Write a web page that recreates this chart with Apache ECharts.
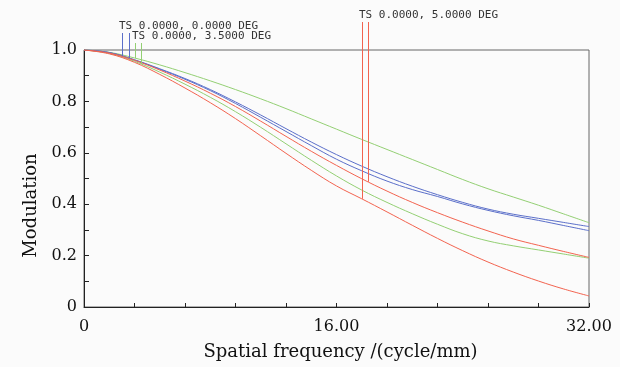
<!DOCTYPE html>
<html>
<head>
<meta charset="utf-8">
<script src="https://cdn.jsdelivr.net/npm/echarts@6/dist/echarts.min.js"></script>
<style>
html,body{margin:0;padding:0;background:#fbfbfb;}
#main{width:620px;height:367px;}
</style>
</head>
<body>
<div id="main"></div>
<script>
// ---- data ----
const freq = [0,1.6,3.2,4.8,6.4,8,9.6,11.2,12.8,14.4,16,17.6,19.2,20.8,22.4,24,25.6,27.2,28.8,30.4,32];
const blueS = [1,0.99,0.962,0.927,0.889,0.846,0.798,0.747,0.694,0.642,0.593,0.548,0.507,0.470,0.437,0.407,0.381,0.361,0.345,0.329,0.313];
const blueT = [1,0.99,0.961,0.925,0.886,0.842,0.792,0.738,0.683,0.628,0.575,0.530,0.490,0.457,0.430,0.401,0.376,0.355,0.337,0.317,0.297];
const greenS = [1,0.991,0.969,0.942,0.912,0.880,0.846,0.810,0.772,0.732,0.692,0.652,0.613,0.574,0.535,0.496,0.460,0.428,0.396,0.362,0.328];
const greenT = [1,0.987,0.956,0.914,0.867,0.816,0.760,0.699,0.635,0.571,0.510,0.455,0.407,0.363,0.322,0.285,0.257,0.238,0.222,0.206,0.190];
const redS = [1,0.988,0.960,0.922,0.879,0.832,0.780,0.723,0.664,0.606,0.551,0.499,0.451,0.407,0.367,0.330,0.296,0.265,0.240,0.216,0.193];
const redT = [1,0.985,0.952,0.905,0.852,0.795,0.733,0.666,0.598,0.532,0.471,0.421,0.370,0.318,0.267,0.219,0.175,0.136,0.101,0.070,0.043];
const fieldLabels = ['TS 0.0000, 0.0000 DEG','TS 0.0000, 3.5000 DEG','TS 0.0000, 5.0000 DEG'];
const blueMarkerFreq = [2.41, 2.83];
const greenMarkerFreq = [3.2, 3.64];
const redMarkerFreq = [17.6, 18.0];
const xTickLabels = {0:'0', 16:'16.00', 32:'32.00'};

// ---- helpers ----
function pairs(ys){ return freq.map((f,i)=>[f, ys[i]]); }
function valueAt(ys, f){
  for (let i=0;i<freq.length-1;i++){
    if (f>=freq[i] && f<=freq[i+1]){
      const t=(f-freq[i])/(freq[i+1]-freq[i]);
      return ys[i]+t*(ys[i+1]-ys[i]);
    }
  }
  return ys[ys.length-1];
}
const BLUE='#5b6fc9', GREEN='#93cf73', RED='#f2634f';
const serif='"DejaVu Serif", serif';

function lineSeries(ys, color){
  return {type:'line', data:pairs(ys), smooth:0.4, symbol:'none', silent:true,
    lineStyle:{color:color, width:1}, itemStyle:{color:color}, animation:false};
}
function markerSeries(freqs, curves, color, label, topOffset){
  return {
    type:'custom', clip:false, silent:true, animation:false, z:5,
    data: freqs.map((f,i)=>[f, valueAt(curves[i], f)]),
    encode:{x:0, y:1},
    renderItem:function(params, api){
      const p = api.coord([api.value(0), api.value(1)]);
      const top = api.coord([0, 1])[1] - topOffset;
      const children = [{
        type:'line',
        shape:{x1:Math.round(p[0])+0.5, y1:p[1], x2:Math.round(p[0])+0.5, y2:top},
        style:{stroke:color, lineWidth:1}
      }];
      if (params.dataIndex===0){
        children.push({
          type:'text',
          style:{text:label, x:Math.round(p[0])-3, y:top-1,
            font:'11px "DejaVu Sans Mono", monospace', fill:'#333',
            align:'left', verticalAlign:'bottom', textAlign:'left', textVerticalAlign:'bottom'}
        });
      }
      return {type:'group', children:children};
    }
  };
}

const chart = echarts.init(document.getElementById('main'), null, {renderer:'canvas'});
chart.setOption({
  backgroundColor:'#fbfbfb',
  animation:false,
  grid:{left:84, right:31, top:50, bottom:60, show:true, borderColor:'#666', borderWidth:1, backgroundColor:'transparent'},
  xAxis:{
    type:'value', min:0, max:32, interval:3.2,
    name:'Spatial frequency /(cycle/mm)', nameLocation:'middle', nameGap:36,
    nameTextStyle:{fontFamily:serif, fontSize:18, color:'#111', padding:[0,0,0,8]},
    axisLine:{lineStyle:{color:'#222', width:1}},
    axisTick:{inside:true, length:4, lineStyle:{color:'#222'}},
    splitLine:{show:false},
    axisLabel:{fontFamily:serif, fontSize:16, color:'#111', margin:12,
      formatter:function(v){ for (const k in xTickLabels){ if (Math.abs(v-k)<1e-6) return xTickLabels[k]; } return ''; }}
  },
  yAxis:{
    type:'value', min:0, max:1, interval:0.1,
    name:'Modulation', nameLocation:'middle', nameGap:38, nameRotate:90,
    nameTextStyle:{fontFamily:serif, fontSize:18, color:'#111', padding:[0,54,0,0]},
    axisLine:{show:true, lineStyle:{color:'#222', width:1}},
    axisTick:{show:true, inside:true, length:5, lineStyle:{color:'#222'}},
    splitLine:{show:false},
    axisLabel:{fontFamily:serif, fontSize:16, color:'#111', margin:7,
      formatter:function(v){ const k=Math.round(v*10); if (k%2!==0) return ''; return k===0?'0':(k/10).toFixed(1); }}
  },
  series:[
    lineSeries(greenS, GREEN),
    lineSeries(greenT, GREEN),
    lineSeries(blueS, BLUE),
    lineSeries(blueT, BLUE),
    lineSeries(redS, RED),
    lineSeries(redT, RED),
    markerSeries(blueMarkerFreq, [blueS, blueT], BLUE, fieldLabels[0], 17),
    markerSeries(greenMarkerFreq, [greenS, greenT], GREEN, fieldLabels[1], 7),
    markerSeries(redMarkerFreq, [redT, redS], RED, fieldLabels[2], 28)
  ]
});
</script>
</body>
</html>
